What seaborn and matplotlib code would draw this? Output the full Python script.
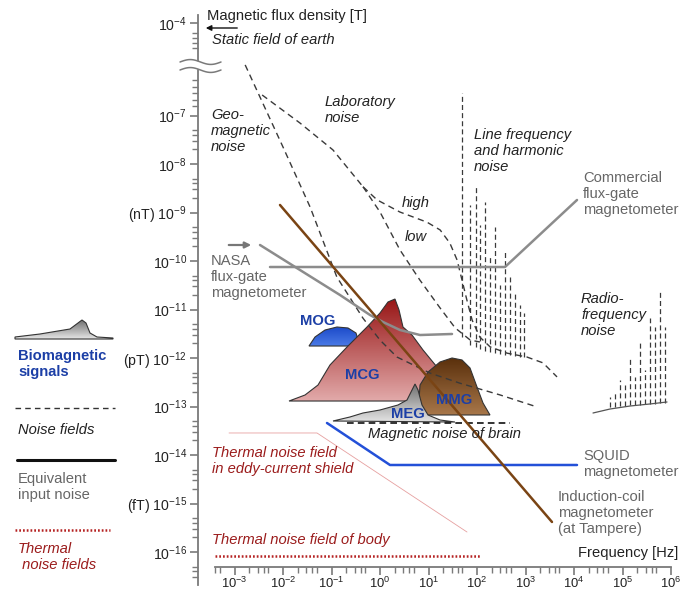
import numpy as np
import matplotlib
matplotlib.use('Agg')
import matplotlib.pyplot as plt
import seaborn as sns
from matplotlib.patches import Polygon
from matplotlib.colors import LinearSegmentedColormap

# ---------------- data: log10(frequency / Hz), log10(flux density / T) ----------------
geo_f = [-2.78, -2.00, -1.44, -0.89, -0.35, 0.0, 0.35, 1.03, 1.65, 2.47, 3.24]
geo_b = [-5.36, -7.65, -8.89, -10.33, -11.18, -11.63, -11.98, -12.31, -12.52, -12.76, -13.01]

lab_f = [-2.43, -1.65, -0.97, -0.35]
lab_b = [-6.335, -7.155, -7.71, -8.47]
lab_high_f = [-0.35, -0.06, 0.41, 0.97, 1.24, 1.44, 1.59, 1.69, 1.79, 1.90, 2.06, 2.27, 2.62, 3.03, 3.36, 3.65]
lab_high_b = [-8.47, -8.74, -8.99, -9.20, -9.36, -9.63, -9.98, -10.39, -10.80, -11.22, -11.57, -11.77,
              -11.90, -11.98, -12.10, -12.39]
lab_low_f = [-0.35, 0.0, 0.41, 0.82, 1.24, 1.55, 1.86, 2.06]
lab_low_b = [-8.47, -8.99, -9.77, -10.39, -10.97, -11.38, -11.63, -11.67]

line_f = [1.691, 1.856, 1.979, 2.062, 2.165, 2.268, 2.371, 2.474, 2.577, 2.680, 2.784, 2.887, 2.969]
line_top = [-6.27, -8.845, -8.474, -9.258, -8.784, -9.876, -9.299, -10.495, -9.773, -10.330, -10.660,
            -10.907, -11.072]
line_bot = [-11.567, -11.732, -11.773, -11.814, -11.856, -11.876, -11.897, -11.918, -11.938, -11.938,
            -11.959, -11.979, -11.979]

radio_f = [4.742, 4.845, 4.948, 5.052, 5.155, 5.258, 5.361, 5.464, 5.567, 5.670, 5.773, 5.876]
radio_top = [-12.804, -12.722, -12.454, -12.557, -12.0, -12.392, -11.629, -12.247, -11.175, -11.361,
             -10.639, -11.361]
radio_bot = [-13.010, -13.010, -12.990, -12.990, -12.969, -12.969, -12.969, -12.948, -12.948, -12.948,
             -12.928, -12.928]
radio_base_f = [4.392, 4.742, 5.155, 5.567, 5.918]
radio_base_b = [-13.134, -13.052, -12.990, -12.948, -12.907]

nasa_f = [-2.474, -1.649, -0.825, -0.206, 0.062, 0.412, 0.825, 1.485]
nasa_b = [-9.670, -10.186, -10.701, -11.113, -11.258, -11.423, -11.526, -11.505]
comm_f = [-2.268, 2.577, 4.062]
comm_b = [-10.124, -10.124, -8.742]
coil_f = [-2.062, 3.546]
coil_b = [-8.845, -15.381]
squid_f = [-1.093, 0.206, 4.062]
squid_b = [-13.340, -14.206, -14.206]
eddy_f = [-3.113, -1.299, 1.794]
eddy_b = [-13.546, -13.546, -15.588]
body_f = [-3.402, 2.062]
body_b = [-16.082, -16.082]
brain_f = [-0.680, 2.680]
brain_b = [-13.340, -13.340]

mog_f = [-1.464, -1.340, -1.134, -0.887, -0.660, -0.495, -0.412]
mog_b = [-11.753, -11.567, -11.423, -11.361, -11.381, -11.485, -11.753]
mcg_f = [-1.876, -1.546, -1.278, -1.031, -0.680, -0.268, 0.0, 0.165, 0.309, 0.392, 0.474, 0.660, 0.887,
         1.175, 1.381, 1.546, 1.753]
mcg_b = [-12.887, -12.763, -12.557, -12.144, -11.773, -11.361, -11.072, -10.845, -10.784, -11.010, -11.361,
         -11.526, -11.835, -12.186, -12.454, -12.701, -12.887]
mmg_f = [0.784, 0.825, 0.990, 1.237, 1.485, 1.691, 1.856, 2.000, 2.124, 2.268]
mmg_b = [-13.175, -12.557, -12.289, -12.082, -12.0, -12.041, -12.206, -12.598, -12.928, -13.175]
meg_f = [-0.969, -0.619, -0.351, 0.0, 0.371, 0.557, 0.660, 0.722, 0.784, 0.866, 0.990, 1.237, 1.546]
meg_b = [-13.299, -13.216, -13.134, -13.072, -12.969, -12.866, -12.660, -12.536, -12.660, -12.969, -13.175,
         -13.278, -13.320]

xtick_exp = [-3, -2, -1, 0, 1, 2, 3, 4, 5, 6]
ytick_exp = [-16, -15, -14, -13, -12, -11, -10, -9, -8, -7, -4]
ytick_unit = {-15: '(fT) ', -12: '(pT) ', -9: '(nT) '}

# ---------------- style ----------------
sns.set_theme(style='white')
plt.rcParams['font.family'] = ['Liberation Sans', 'DejaVu Sans']
plt.rcParams['mathtext.fontset'] = 'custom'
plt.rcParams['mathtext.rm'] = 'Liberation Sans'
plt.rcParams['mathtext.it'] = 'Liberation Sans:italic'
plt.rcParams['mathtext.bf'] = 'Liberation Sans:bold'

FS = 10.6
TICK_FS = 10.2
AX_COL = '#7a7a7a'
DASH_COL = '#3a3a3a'
GRAY_TXT = '#666666'
RED_TXT = '#9b1c1c'
BLUE_TXT = '#1c3fa6'


def yp(v):
    a = np.asarray(v, dtype=float)
    return np.where(a <= -7, a, -7 + (a + 7) * 0.636)


def px(x):
    return (x - 380) / 48.5


def py(y):
    return -12 - (y - 358) / 48.5


fig = plt.figure(figsize=(6.81, 5.93), dpi=100)
ax = fig.add_axes([0, 0, 1, 1])
XL = (px(0), px(681))
YL = (py(593), py(0))
ax.set_facecolor('white')


def line(f, b, **kw):
    sns.lineplot(x=np.asarray(f, float), y=yp(b), ax=ax, sort=False, estimator=None,
                 legend=False, **kw)


def grad_patch(xs, ys, c_top, c_bot, z, edge='#333333'):
    xs = np.asarray(xs, float)
    ys = np.asarray(ys, float)
    poly = Polygon(np.column_stack([xs, ys]), closed=True, fc='none', ec=edge, lw=0.8, zorder=z + 0.1)
    ax.add_patch(poly)
    cmap = LinearSegmentedColormap.from_list('g', [c_bot, c_top])
    grad = np.linspace(0, 1, 256).reshape(-1, 1)
    im = ax.imshow(grad, extent=[xs.min(), xs.max(), ys.min(), ys.max()], origin='lower',
                   aspect='auto', cmap=cmap, zorder=z, interpolation='bilinear')
    im.set_clip_path(poly)


# ---------------- biomagnetic signal shapes ----------------
grad_patch(mog_f, yp(mog_b), '#1a48c8', '#4a7ae6', 2)
grad_patch(mcg_f, yp(mcg_b), '#981616', '#e2aaaa', 3)
grad_patch(mmg_f, yp(mmg_b), '#5a300c', '#a8774a', 4)
grad_patch(meg_f, yp(meg_b), '#6e6e6e', '#e4e4e4', 5)

# ---------------- noise fields ----------------
dash = (0, (4.5, 3.2))
line(geo_f, geo_b, color=DASH_COL, lw=1.0, linestyle=dash, zorder=6)
line(lab_f, lab_b, color=DASH_COL, lw=1.0, linestyle=dash, zorder=6)
line(lab_high_f, lab_high_b, color=DASH_COL, lw=1.0, linestyle=dash, zorder=6)
line(lab_low_f, lab_low_b, color=DASH_COL, lw=1.0, linestyle=dash, zorder=6)
ax.vlines(line_f, yp(line_bot), yp(line_top), colors=DASH_COL, linestyles=(0, (4, 2.5)), lw=0.9, zorder=6)
ax.vlines(radio_f, yp(radio_bot), yp(radio_top), colors=DASH_COL, linestyles=(0, (4, 2.5)), lw=0.9, zorder=6)
line(radio_base_f, radio_base_b, color='#555555', lw=0.9, zorder=6)
line(brain_f, brain_b, color='#111111', lw=1.2, linestyle=(0, (4, 2.5)), zorder=6)

# ---------------- thermal noise ----------------
line(eddy_f, eddy_b, color='#e6a0a0', lw=0.6, zorder=6)
line(body_f, body_b, color='#b52222', lw=1.8, linestyle=(0, (0.7, 0.8)), zorder=6)

# ---------------- magnetometers ----------------
line(nasa_f, nasa_b, color='#8c8c8c', lw=1.8, zorder=7)
line(comm_f, comm_b, color='#8c8c8c', lw=1.8, zorder=7)
line(squid_f, squid_b, color='#2350d8', lw=1.8, zorder=7)
line(coil_f, coil_b, color='#7a4414', lw=1.8, zorder=8)

# arrows
ax.annotate('', xy=(px(203), py(28)), xytext=(px(240), py(28)),
            arrowprops=dict(arrowstyle='-|>', color='#111111', lw=1.0, mutation_scale=8))
ax.annotate('', xy=(px(254), py(245)), xytext=(px(226), py(245)),
            arrowprops=dict(arrowstyle='-|>', color='#777777', lw=1.6, mutation_scale=9))


def T(x, y, s, **kw):
    kw.setdefault('fontsize', FS)
    kw.setdefault('va', 'center')
    kw.setdefault('ha', 'left')
    kw.setdefault('linespacing', 1.15)
    ax.text(px(x), py(y), s, zorder=10, **kw)


T(207, 16, 'Magnetic flux density [T]', color='#222222')
T(212, 40, 'Static field of earth', style='italic', color='#222222')
T(211, 131, 'Geo-\nmagnetic\nnoise', style='italic', color='#222222')
T(325, 110, 'Laboratory\nnoise', style='italic', color='#222222')
T(402, 203, 'high', style='italic', color='#222222')
T(405, 237, 'low', style='italic', color='#222222')
T(474, 151, 'Line frequency\nand harmonic\nnoise', style='italic', color='#222222')
T(583, 194, 'Commercial\nflux-gate\nmagnetometer', color=GRAY_TXT)
T(211, 277, 'NASA\nflux-gate\nmagnetometer', color=GRAY_TXT)
T(581, 315, 'Radio-\nfrequency\nnoise', style='italic', color='#222222')
T(318, 321, 'MOG', weight='bold', color=BLUE_TXT, ha='center')
T(362, 375, 'MCG', weight='bold', color=BLUE_TXT, ha='center')
T(454, 400, 'MMG', weight='bold', color=BLUE_TXT, ha='center')
T(408, 414, 'MEG', weight='bold', color=BLUE_TXT, ha='center')
T(368, 434, 'Magnetic noise of brain', style='italic', color='#222222')
T(583, 464, 'SQUID\nmagnetometer', color=GRAY_TXT)
T(558, 513, 'Induction-coil\nmagnetometer\n(at Tampere)', color=GRAY_TXT)
T(212, 461, 'Thermal noise field\nin eddy-current shield', style='italic', color=RED_TXT)
T(212, 540, 'Thermal noise field of body', style='italic', color=RED_TXT)
T(678, 553, 'Frequency [Hz]', color='#222222', ha='right')

# ---------------- left-hand key ----------------
key_f = [px(15), px(40), px(70), px(78), px(82), px(86), px(90), px(97), px(113), px(113), px(15)]
key_b = [py(337), py(334), py(329), py(323), py(320), py(323), py(333), py(337), py(338), py(339), py(339)]
grad_patch(key_f, key_b, '#707070', '#e6e6e6', 5)
T(18, 364, 'Biomagnetic\nsignals', weight='bold', color=BLUE_TXT)
ax.plot([px(15), px(115)], [py(408)] * 2, color='#333333', lw=1.0, linestyle=(0, (4, 3)))
T(18, 430, 'Noise fields', style='italic', color='#222222')
ax.plot([px(17), px(115)], [py(460)] * 2, color='#111111', lw=2.2)
T(18, 487, 'Equivalent\ninput noise', color=GRAY_TXT)
ax.plot([px(15), px(110)], [py(530)] * 2, color='#b52222', lw=1.8, linestyle=(0, (0.7, 0.8)))
T(18, 557, 'Thermal\n noise fields', style='italic', color=RED_TXT)

# ---------------- axes ----------------
for s in ['top', 'right']:
    ax.spines[s].set_visible(False)
ax.spines['left'].set_position(('data', px(198)))
ax.spines['left'].set_bounds(py(585), py(15))
ax.spines['bottom'].set_position(('data', py(567)))
ax.spines['bottom'].set_bounds(px(215), 6.0)
for s in ['left', 'bottom']:
    ax.spines[s].set_color(AX_COL)
    ax.spines[s].set_linewidth(1.3)

ax.set_xticks(xtick_exp)
ax.set_xticklabels([r'$10^{%d}$' % e for e in xtick_exp])
xminor = [d + np.log10(k) for d in range(-4, 6) for k in (2, 3, 4, 5)]
xminor = [v for v in xminor if px(215) < v < 6]
ax.set_xticks(xminor, minor=True)

ax.set_yticks(yp(ytick_exp))
ax.set_yticklabels([ytick_unit.get(e, '') + r'$10^{%d}$' % e for e in ytick_exp])
yminor = [d + np.log10(k) for d in range(-17, -7) for k in (2, 3, 4, 5)]
yminor = [v for v in yminor if py(585) < v < -7]
yminor += [py(v) for v in (33, 38, 43, 48, 80, 87, 93, 100, 106)]
ax.set_yticks(yminor, minor=True)

ax.tick_params(axis='y', which='major', length=6, width=1.2, color=AX_COL, direction='out',
               labelsize=TICK_FS, labelcolor='#222222', pad=2)
ax.tick_params(axis='x', which='major', length=5.5, width=1.2, color=AX_COL, direction='out',
               labelsize=9.4, labelcolor='#222222', pad=0.5)
ax.tick_params(axis='both', which='minor', length=4, width=1.0, color=AX_COL, direction='out')
ax.tick_params(axis='x', which='both', bottom=True)
ax.tick_params(axis='y', which='both', left=True)

# axis break symbol
tt = np.linspace(0, 1, 60)
bx = px(180) + tt * (px(221) - px(180))
w1 = py(62) + 0.05 * np.sin(2 * np.pi * tt)
w2 = py(70) + 0.05 * np.sin(2 * np.pi * tt)
ax.fill_between(bx, w2, w1, color='white', zorder=9, lw=0)
ax.plot(bx, w1, color=AX_COL, lw=1.1, zorder=9.5)
ax.plot(bx, w2, color=AX_COL, lw=1.1, zorder=9.5)

ax.set_xlabel('')
ax.set_ylabel('')
ax.set_xlim(XL)
ax.set_ylim(YL)
fig.savefig('out.png', dpi=100, facecolor='white')
